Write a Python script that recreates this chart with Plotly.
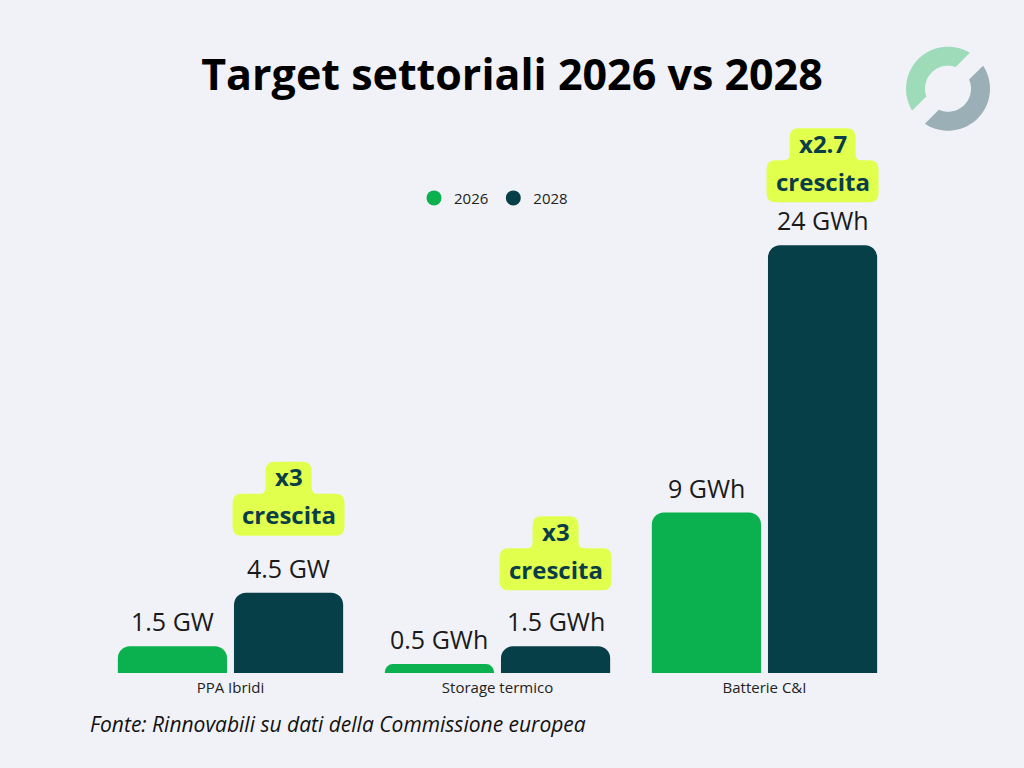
import math
import plotly.graph_objects as go

# ---- data ----
categories = ["PPA Ibridi", "Storage termico", "Batterie C&I"]
values_2026 = [1.5, 0.5, 9]
values_2028 = [4.5, 1.5, 24]
units = ["GW", "GWh", "GWh"]
series_names = ["2026", "2028"]
title_text = "Target settoriali 2026 vs 2028"
source_text = "Fonte: Rinnovabili su dati della Commissione europea"
badge_word = "crescita"

# ---- style ----
BG = "#f1f2f7"
GREEN = "#0bb14f"
DARK = "#073f49"
LIME = "#e1ff4d"
BADGE_TXT = "#0a3d47"
FONT = "Open Sans"
BARGAP = 0.13
BARGROUPGAP = 0.06
BADGE_LIFT = [57, 56, 43]  # px above bar top
YMAX = 34
BASE_PX = 673           # page y of the baseline
PLOT_H = YMAX * 17.83   # plot height in px
TOP_M = BASE_PX - PLOT_H

fig = go.Figure()
fig.add_trace(go.Bar(x=categories, y=values_2026, name=series_names[0],
                     marker=dict(color=GREEN, cornerradius=12, line_width=0),
                     showlegend=False, hoverinfo="skip"))
fig.add_trace(go.Bar(x=categories, y=values_2028, name=series_names[1],
                     marker=dict(color=DARK, cornerradius=12, line_width=0),
                     showlegend=False, hoverinfo="skip"))
# legend entries with circle symbols
for nm, col in zip(series_names, [GREEN, DARK]):
    fig.add_trace(go.Scatter(x=[None], y=[None], mode="markers", name=nm,
                             marker=dict(color=col, size=15, symbol="circle")))

annotations = []
shapes = []
off = (1 - BARGAP) / 4.0
for i, cat in enumerate(categories):
    for v, sgn in ((values_2026[i], -1), (values_2028[i], 1)):
        annotations.append(dict(x=i + sgn * off, y=v, xref="x", yref="y",
                                text=f"{v:g} {units[i]}", showarrow=False,
                                yanchor="bottom", yshift=6,
                                font=dict(family=FONT, size=25, color="#1a1a1a")))
    # growth badge
    mult = values_2028[i] / values_2026[i]
    mtxt = f"x{round(mult, 1):g}"
    bx = i + off
    v = values_2028[i]
    L = BADGE_LIFT[i]
    Hb, Ht = 42, 32
    W = 112
    nch = len(mtxt.replace(".", ""))
    w = 14 * nch + 6 * mtxt.count(".") + 18
    r, f = 9, 6
    T = L + Hb + Ht
    M = L + Hb
    path = (f"M{-W/2+r},{L} L{W/2-r},{L} Q{W/2},{L} {W/2},{L+r} "
            f"L{W/2},{M-r} Q{W/2},{M} {W/2-r},{M} "
            f"L{w/2+f},{M} Q{w/2},{M} {w/2},{M+f} "
            f"L{w/2},{T-r} Q{w/2},{T} {w/2-r},{T} "
            f"L{-w/2+r},{T} Q{-w/2},{T} {-w/2},{T-r} "
            f"L{-w/2},{M+f} Q{-w/2},{M} {-w/2-f},{M} "
            f"L{-W/2+r},{M} Q{-W/2},{M} {-W/2},{M-r} "
            f"L{-W/2},{L+r} Q{-W/2},{L} {-W/2+r},{L} Z")
    shapes.append(dict(type="path", xref="x", yref="y", xsizemode="pixel",
                       ysizemode="pixel", xanchor=bx, yanchor=v, path=path,
                       fillcolor=LIME, line_width=0, layer="above"))
    annotations.append(dict(x=bx, y=v, xref="x", yref="y", text=f"<b>{badge_word}</b>",
                            showarrow=False, yanchor="middle", yshift=L + Hb / 2,
                            font=dict(family=FONT, size=24, color=BADGE_TXT)))
    annotations.append(dict(x=bx, y=v, xref="x", yref="y", text=f"<b>{mtxt}</b>",
                            showarrow=False, yanchor="middle", yshift=M + Ht / 2 + 1,
                            font=dict(family=FONT, size=24, color=BADGE_TXT)))

# source note
annotations.append(dict(x=0, y=0, xref="paper", yref="paper", xanchor="left",
                        yanchor="middle", xshift=-9, yshift=-51, showarrow=False,
                        text=f"<i>{source_text}</i>",
                        font=dict(family=FONT, size=21, color="#111111")))

# logo (decorative ring, two pieces)
def ring_piece(R, r, c, side, cx, cy):
    pts = []
    def angles(rad):
        k = max(-1, min(1, c / (rad * math.sqrt(2))))
        a = math.degrees(math.asin(k))
        if side < 0:
            return 135 - a, 315 + a
        return a - 45, 135 - a
    a1, a2 = angles(R)
    b1, b2 = angles(r)
    n = 40
    for j in range(n + 1):
        t = math.radians(a1 + (a2 - a1) * j / n)
        pts.append((cx + R * math.cos(t), cy - R * math.sin(t)))
    for j in range(n + 1):
        t = math.radians(b2 + (b1 - b2) * j / n)
        pts.append((cx + r * math.cos(t), cy - r * math.sin(t)))
    return "M" + " L".join(f"{x:.2f},{y:.2f}" for x, y in pts) + " Z"

# logo centre at page (948,88.5); anchor = plot area top-right (898, TOP_M)
lcx, lcy = 50, TOP_M - 88.5
for side, c, col in ((-1, -14, "#9edbb9"), (1, 12, "#9aafb6")):
    shapes.append(dict(type="path", xref="paper", yref="paper", xsizemode="pixel",
                       ysizemode="pixel", xanchor=1, yanchor=1,
                       path=ring_piece(42, 23, c, side, lcx, lcy),
                       fillcolor=col, line_width=0, layer="above"))

fig.update_layout(
    width=1024, height=768,
    margin=dict(l=97, r=126, t=TOP_M, b=768 - BASE_PX),
    paper_bgcolor=BG, plot_bgcolor=BG,
    barmode="group", bargap=BARGAP, bargroupgap=BARGROUPGAP,
    title=dict(text=title_text, x=0.5, xref="container", xanchor="center",
               y=1 - 75 / 768, yref="container", yanchor="middle",
               font=dict(family=FONT, size=43, color="#000000", weight=700)),
    legend=dict(orientation="h", x=0.495, xanchor="center",
                y=(BASE_PX - 198) / PLOT_H, yanchor="middle",
                font=dict(family=FONT, size=15, color="#222222"),
                bgcolor="rgba(0,0,0,0)", itemwidth=30),
    xaxis=dict(type="category", showgrid=False, showline=False, zeroline=False,
               ticks="", tickfont=dict(family=FONT, size=15, color="#222222"),
               ticklabelstandoff=4,
               range=[-0.5, 2.5], fixedrange=True),
    yaxis=dict(visible=False, range=[0, YMAX], showgrid=False, zeroline=False,
               fixedrange=True),
    annotations=annotations, shapes=shapes,
    showlegend=True,
)

fig.write_html("out.html")
